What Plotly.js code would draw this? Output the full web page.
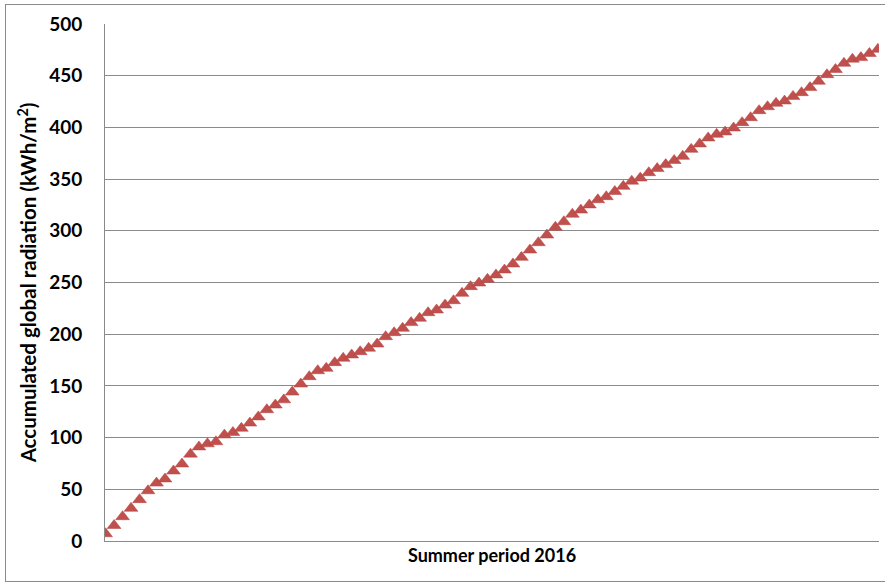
<!DOCTYPE html>
<html>
<head>
<meta charset="utf-8">
<script src="https://cdn.plot.ly/plotly-3.0.1.min.js"></script>
<style>
  html, body { margin: 0; padding: 0; background: #fff; }
  #chart { position: absolute; left: 0; top: 0; width: 885px; height: 584px; }
  #frame { position: absolute; left: 5px; top: 4px; width: 882px; height: 578px;
           box-sizing: border-box; border: 1px solid #8a8a8a; pointer-events: none; }
</style>
</head>
<body>
<div id="chart"></div>
<div id="frame"></div>
<script>
// Days of summer period 2016 (1 June .. 31 August) as category positions
const days = Array.from({length: 92}, (_, i) => i + 1);

// Accumulated global radiation (kWh/m2)
const accumulatedRadiation = [
  7, 15, 23.5, 31.6, 40, 48.6, 56, 60, 67.7, 74.5,
  84, 91, 94, 96, 102.5, 105, 109, 114, 120, 127,
  131.5, 136.5, 144, 151.8, 158.9, 164.7, 167, 172.5, 176.7, 179.9,
  183.1, 186.4, 190.5, 197.6, 201.5, 205.7, 211.2, 215.4, 220.8, 223.4,
  228.2, 232.4, 239.5, 246, 249.5, 253.1, 257.3, 262.1, 267.9, 274.3,
  281.4, 288.5, 295.9, 303.4, 308.8, 316, 320, 325, 330, 333,
  338, 343, 348, 351, 356.2, 360.2, 364, 368, 372, 378.8,
  384, 389.8, 393.3, 395.6, 399.4, 404.6, 409.4, 416.2, 420, 423.3,
  425.5, 430, 433.6, 438.5, 444.6, 451, 456, 462, 466, 467.5,
  471.5, 475.5
];

const yTickValues = [0, 50, 100, 150, 200, 250, 300, 350, 400, 450, 500];
const xAxisTitle = 'Summer period 2016';
const yAxisTitle = 'Accumulated global radiation (kWh/m<sup>2</sup>)';

const trace = {
  type: 'scatter',
  mode: 'markers',
  x: days,
  y: accumulatedRadiation,
  marker: {
    symbol: 'triangle-up',
    size: 12,
    color: '#C0504D',
    line: { color: '#B9433F', width: 0.5 }
  },
  hoverinfo: 'x+y',
  showlegend: false
};

const layout = {
  width: 885,
  height: 584,
  margin: { l: 105, r: 6, t: 24, b: 43, pad: 0 },
  paper_bgcolor: '#ffffff',
  plot_bgcolor: '#ffffff',
  font: { family: 'Lato, "Open Sans", sans-serif', color: '#000000' },
  xaxis: {
    range: [0.93, 92.13],
    showticklabels: false,
    ticks: '',
    showgrid: false,
    zeroline: false,
    showline: true,
    linecolor: '#8a8a8a',
    linewidth: 1,
    title: { text: '<b>' + xAxisTitle + '</b>', font: { size: 18, color: '#000' }, standoff: 8 },
    fixedrange: true
  },
  yaxis: {
    range: [0, 500],
    tickvals: yTickValues,
    ticktext: yTickValues.map(String),
    tickfont: { size: 19, color: '#000', weight: 'bold' },
    ticks: '',
    ticklabelstandoff: 18,
    showgrid: true,
    gridcolor: '#8a8a8a',
    gridwidth: 1,
    zeroline: false,
    showline: true,
    linecolor: '#8a8a8a',
    linewidth: 1,
    title: { text: '<b>' + yAxisTitle + '</b>', font: { size: 20.5, color: '#000' }, standoff: 6 },
    fixedrange: true
  }
};

Plotly.newPlot('chart', [trace], layout, { staticPlot: true, displayModeBar: false });
</script>
</body>
</html>
